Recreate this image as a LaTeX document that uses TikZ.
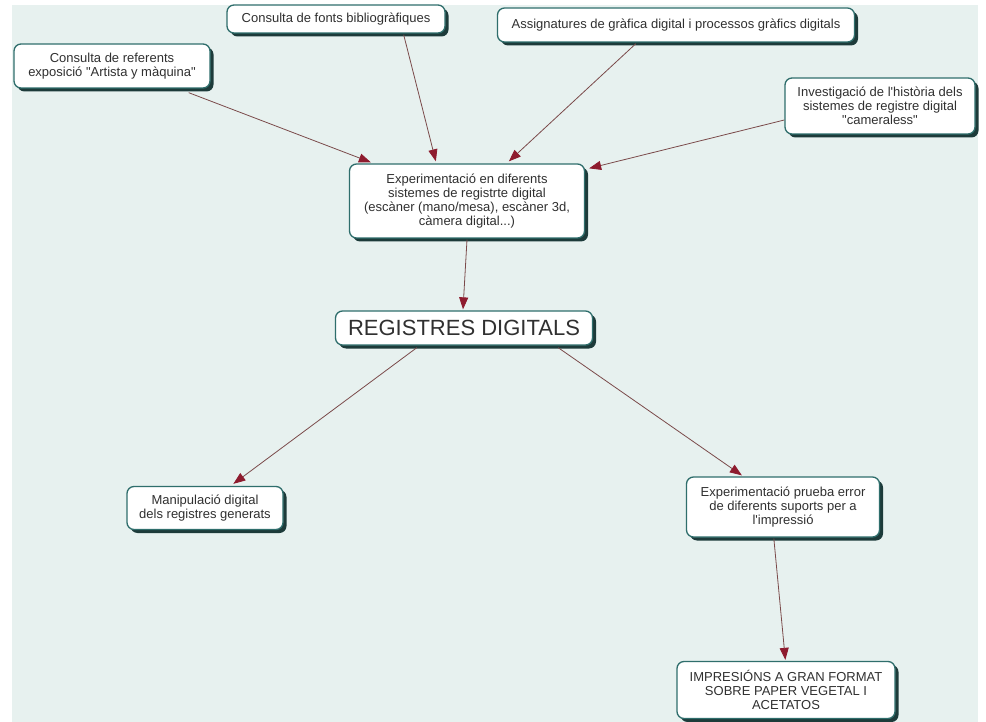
\documentclass[tikz,border=0pt]{standalone}
\usepackage{fontspec}
\setmainfont{Liberation Sans}[Ligatures=TeXOff]
\usetikzlibrary{arrows.meta,shadows,calc}
\definecolor{bgteal}{HTML}{E7F1EF}
\definecolor{boxborder}{HTML}{2F6E6C}
\definecolor{boxshadow}{HTML}{1D3B3A}
\definecolor{linkcol}{HTML}{7A4A4A}
\definecolor{tipcol}{HTML}{8E1B2E}
\definecolor{txt}{HTML}{303030}
\tikzset{
  cbox/.style={draw=boxborder, line width=1.3pt, fill=white, rounded corners=7pt,
    align=center, text=txt, font=\fontsize{13}{14.2}\selectfont, inner sep=1pt,
    drop shadow={shadow xshift=3.5pt, shadow yshift=-3.5pt, fill=boxshadow, opacity=1}},
  link/.style={draw=linkcol, line width=0.8pt,
    -{Triangle[length=12pt,width=9pt,fill=tipcol,color=tipcol]}}
}
\begin{document}
\begin{tikzpicture}[x=1pt,y=-1pt]
\fill[white] (0,0) rectangle (986,722);
\fill[bgteal] (12,5) rectangle (978,722);
\useasboundingbox (0,0) rectangle (986,722);

\node[cbox, minimum width=218pt, minimum height=28pt] (fonts) at (336,19) {Consulta de fonts bibliogràfiques};
\node[cbox, minimum width=196pt, minimum height=44pt] (ref) at (112,66) {Consulta de referents\\exposició "Artista y màquina"};
\node[cbox, minimum width=357pt, minimum height=34pt] (assig) at (676,25) {Assignatures de gràfica digital i processos gràfics digitals};
\node[cbox, minimum width=190pt, minimum height=56pt] (inv) at (880,106) {Investigació de l'història dels\\sistemes de registre digital\\"cameraless"};
\node[cbox, minimum width=235pt, minimum height=74pt] (exp) at (467,201) {Experimentació en diferents\\sistemes de registrte digital\\(escàner (mano/mesa), escàner 3d,\\càmera digital...)};
\node[cbox, minimum width=257pt, minimum height=34pt, font=\fontsize{22}{25}\selectfont] (reg) at (464,328) {REGISTRES DIGITALS};
\node[cbox, minimum width=156pt, minimum height=43pt] (manip) at (205,508) {Manipulació digital\\dels registres generats};
\node[cbox, minimum width=193pt, minimum height=60pt] (exp2) at (783,507) {Experimentació prueba error\\de diferents suports per a\\l'impressió};
\node[cbox, minimum width=218pt, minimum height=57pt] (imp) at (786,690) {IMPRESIÓNS A GRAN FORMAT\\SOBRE PAPER VEGETAL I\\ACETATOS};

\draw[link] ($(ref.south east)+(-22,4)$) -- ($(exp.north west)+(22,-1)$);
\draw[link] ($(fonts.south east)+(-42,1)$) -- ($(exp.north west)+(87,-2)$);
\draw[link] ($(assig.south west)+(139,1)$) -- ($(exp.north west)+(160,-2)$);
\draw[link] ($(inv.west)+(0,14)$) -- ($(exp.north east)+(4,5)$);
\draw[link] ($(exp.south)+(0,1)$) -- ($(reg.north)+(-1,-1)$);
\draw[link] ($(reg.south west)+(82,2)$) -- ($(manip.north west)+(107,-2)$);
\draw[link] ($(reg.south east)+(-35,2)$) -- ($(exp2.north west)+(56,-1)$);
\draw[link] ($(exp2.south west)+(88,1)$) -- ($(imp.north west)+(109,-1)$);
\end{tikzpicture}
\end{document}
